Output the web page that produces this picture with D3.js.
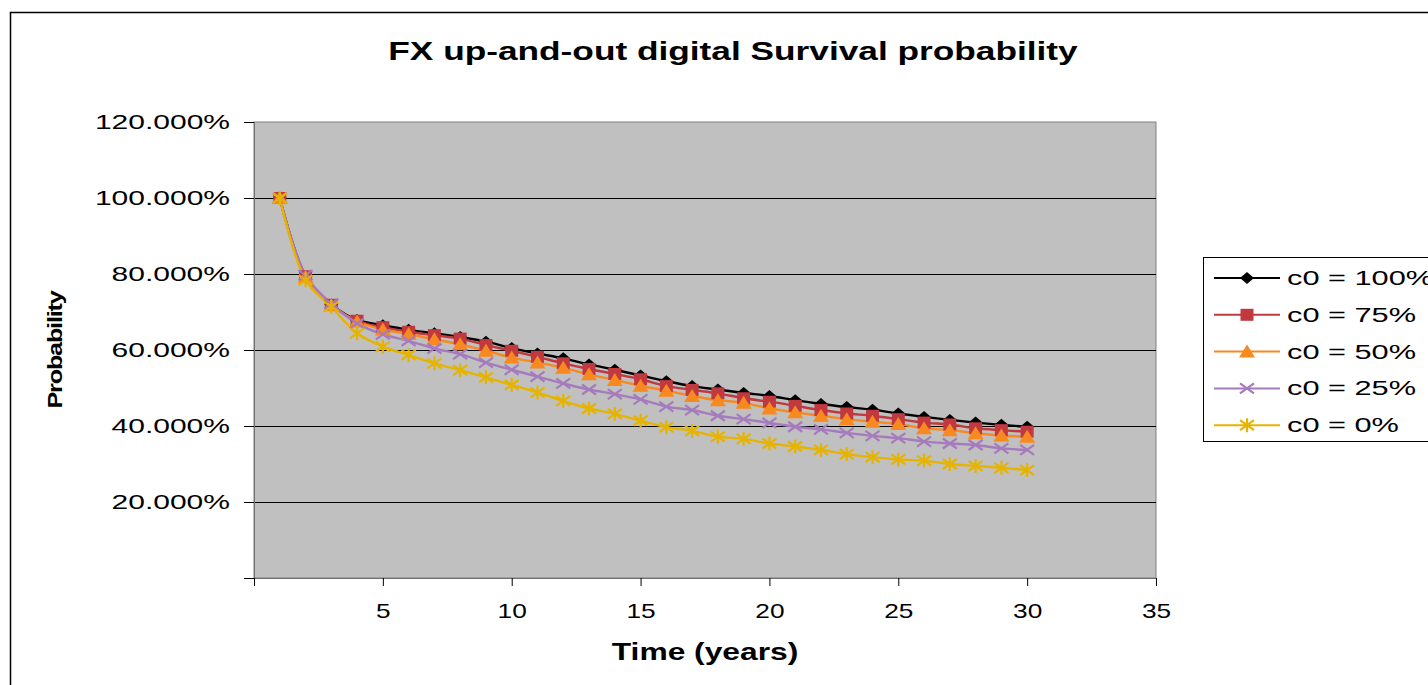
<!DOCTYPE html>
<html lang="en">
<head>
<meta charset="UTF-8">
<title>FX up-and-out digital Survival probability</title>
<script src="https://cdn.jsdelivr.net/npm/d3@7"></script>
<style>
    body { margin: 0; background: #fff; }
    svg { display: block; font-family: "Liberation Sans", Arial, sans-serif; }
</style>
</head>
<body>
<div id="wrap"></div>
<script>
    // data
    var years = d3.range(1, 31);
    var seriesNames = ['c0 = 100%', 'c0 = 75%', 'c0 = 50%', 'c0 = 25%', 'c0 = 0%'];
    var c100 = [1.000, 0.795, 0.720, 0.679, 0.665, 0.653, 0.644, 0.634, 0.622, 0.605, 0.591, 0.578, 0.562, 0.548, 0.533,
        0.518, 0.505, 0.496, 0.487, 0.479, 0.468, 0.458, 0.450, 0.443, 0.433, 0.424, 0.416, 0.409, 0.403, 0.398];
    var c75 = [1.000, 0.794, 0.719, 0.677, 0.660, 0.648, 0.639, 0.630, 0.613, 0.598, 0.582, 0.565, 0.550, 0.537, 0.523,
        0.505, 0.495, 0.486, 0.473, 0.464, 0.453, 0.442, 0.433, 0.427, 0.418, 0.409, 0.404, 0.394, 0.389, 0.385];
    var c50 = [1.000, 0.793, 0.718, 0.675, 0.654, 0.642, 0.628, 0.615, 0.598, 0.580, 0.567, 0.553, 0.536, 0.521, 0.506,
        0.493, 0.479, 0.468, 0.461, 0.446, 0.436, 0.427, 0.418, 0.411, 0.405, 0.394, 0.389, 0.381, 0.375, 0.372];
    var c25 = [1.000, 0.797, 0.722, 0.670, 0.641, 0.624, 0.604, 0.589, 0.567, 0.548, 0.530, 0.512, 0.496, 0.484, 0.470,
        0.451, 0.442, 0.427, 0.418, 0.408, 0.398, 0.391, 0.382, 0.374, 0.368, 0.359, 0.354, 0.350, 0.341, 0.337];
    var c0 = [1.000, 0.784, 0.714, 0.644, 0.609, 0.587, 0.565, 0.547, 0.528, 0.508, 0.488, 0.466, 0.446, 0.432, 0.414,
        0.397, 0.387, 0.372, 0.366, 0.354, 0.346, 0.337, 0.326, 0.318, 0.312, 0.309, 0.300, 0.295, 0.290, 0.284];
    var seriesValues = [c100, c75, c50, c25, c0];
    var seriesColors = ['#000000', '#c0393f', '#f7891f', '#a57bbd', '#e6b400'];
    var seriesMarkers = ['diamond', 'square', 'triangle', 'cross', 'star'];
    var yTicks = [0, 0.2, 0.4, 0.6, 0.8, 1.0, 1.2];
    var xTicks = [0, 5, 10, 15, 20, 25, 30, 35];

    var WIDTH = 1428, HEIGHT = 685,
        STRETCH = 1.5; // the original picture is stretched sideways

    var svg = d3.select('#wrap').append('svg').attr('width', WIDTH).attr('height', HEIGHT);

    // stretch text horizontally like the reference
    function stretch(sel, f) {
        sel.each(function() {
            var len = this.getComputedTextLength();
            if (len > 0) {
                d3.select(this).attr('textLength', len * f).attr('lengthAdjust', 'spacingAndGlyphs');
            }
        });
    }

    // chart frame (runs off the right and bottom)
    svg.append('rect').attr('x', 10.5).attr('y', 12.5).attr('width', 1600).attr('height', 900)
        .attr('fill', '#fff').attr('stroke', '#000').attr('stroke-width', 1.5);

    var x = d3.scaleLinear().domain([0, 35]).range([254, 1156]);
    var y = d3.scaleLinear().domain([0, 1.2]).range([578, 122]);

    // plot area
    svg.append('rect').attr('x', x(0)).attr('y', y(1.2)).attr('width', x(35) - x(0)).attr('height', y(0) - y(1.2))
        .attr('fill', '#c0c0c0').attr('stroke', '#808080').attr('stroke-width', 1);

    // gridlines
    svg.append('g').selectAll('line').data(yTicks.filter(function(d) { return d > 0 && d < 1.2; }))
        .enter().append('line')
        .attr('x1', x(0)).attr('x2', x(35))
        .attr('y1', function(d) { return Math.round(y(d)) + 0.5; })
        .attr('y2', function(d) { return Math.round(y(d)) + 0.5; })
        .attr('stroke', '#000').attr('stroke-width', 1);

    // y axis
    var yAxis = d3.axisLeft(y).tickValues(yTicks).tickSize(10).tickPadding(14)
        .tickFormat(function(d) { return d === 0 ? '' : d3.format('.3%')(d); });
    var gy = svg.append('g').attr('transform', 'translate(' + x(0) + ',0)').call(yAxis);
    gy.select('.domain').attr('stroke', '#707070');
    gy.selectAll('.tick line').attr('stroke', '#000');
    gy.selectAll('text').attr('font-size', 20).attr('fill', '#000')
        .attr('font-family', '"Liberation Sans", Arial, sans-serif');
    stretch(gy.selectAll('text'), STRETCH);

    // x axis
    var xAxis = d3.axisBottom(x).tickValues(xTicks).tickSize(8).tickPadding(17)
        .tickFormat(function(d) { return d === 0 ? '' : d; });
    var gx = svg.append('g').attr('transform', 'translate(0,' + y(0) + ')').call(xAxis);
    gx.select('.domain').attr('stroke', '#707070');
    gx.selectAll('.tick line').attr('stroke', '#000');
    gx.selectAll('text').attr('font-size', 21).attr('fill', '#000')
        .attr('font-family', '"Liberation Sans", Arial, sans-serif');
    stretch(gx.selectAll('text'), 1.25);

    // titles
    var title = svg.append('text').attr('x', 733).attr('y', 60).attr('text-anchor', 'middle')
        .attr('font-size', 25).attr('font-weight', 'bold').text('FX up-and-out digital Survival probability');
    stretch(title, 1.41);
    var xTitle = svg.append('text').attr('x', 705).attr('y', 660).attr('text-anchor', 'middle')
        .attr('font-size', 23).attr('font-weight', 'bold').text('Time (years)');
    stretch(xTitle, 1.38);
    var yTitle = svg.append('text').attr('transform', 'translate(62,350) rotate(-90)').attr('text-anchor', 'middle')
        .attr('font-size', 21).attr('font-weight', 'bold').attr('letter-spacing', -1).text('Probability');
    stretch(yTitle, 1.2);

    // marker drawing
    function drawMarker(g, type, color, cx, cy) {
        if (type === 'diamond') {
            g.append('path').attr('d', 'M' + cx + ',' + (cy - 6) + 'L' + (cx + 7) + ',' + cy + 'L' + cx + ',' + (cy + 6) + 'L' + (cx - 7) + ',' + cy + 'Z')
                .attr('fill', color);
        } else if (type === 'square') {
            g.append('rect').attr('x', cx - 6.5).attr('y', cy - 6).attr('width', 13).attr('height', 12).attr('fill', color);
        } else if (type === 'triangle') {
            g.append('path').attr('d', 'M' + cx + ',' + (cy - 7) + 'L' + (cx + 8) + ',' + (cy + 6) + 'L' + (cx - 8) + ',' + (cy + 6) + 'Z')
                .attr('fill', color);
        } else if (type === 'cross') {
            g.append('path').attr('d', 'M' + (cx - 7) + ',' + (cy - 5) + 'L' + (cx + 7) + ',' + (cy + 5) + 'M' + (cx + 7) + ',' + (cy - 5) + 'L' + (cx - 7) + ',' + (cy + 5))
                .attr('stroke', color).attr('stroke-width', 2.2).attr('fill', 'none');
        } else if (type === 'star') {
            g.append('path').attr('d', 'M' + (cx - 7) + ',' + (cy - 5) + 'L' + (cx + 7) + ',' + (cy + 5) + 'M' + (cx + 7) + ',' + (cy - 5) + 'L' + (cx - 7) + ',' + (cy + 5) + 'M' + cx + ',' + (cy - 7) + 'L' + cx + ',' + (cy + 7))
                .attr('stroke', color).attr('stroke-width', 2.2).attr('fill', 'none');
        }
    }

    var line = d3.line()
        .x(function(d, i) { return x(years[i]); })
        .y(function(d) { return y(d); })
        .curve(d3.curveCatmullRom.alpha(0.5));

    // lines first, then markers on top
    for (var s = 0; s < seriesValues.length; s++) {
        svg.append('g').attr('class', 'series s' + s)
            .append('path').datum(seriesValues[s]).attr('d', line)
            .attr('fill', 'none').attr('stroke', seriesColors[s]).attr('stroke-width', 2.4);
    }
    for (var s2 = 0; s2 < seriesValues.length; s2++) {
        var gm = svg.append('g').attr('class', 'markers m' + s2);
        for (var k = 0; k < years.length; k++) {
            drawMarker(gm, seriesMarkers[s2], seriesColors[s2], x(years[k]), y(seriesValues[s2][k]));
        }
    }

    // legend
    var lg = svg.append('g').attr('class', 'legend');
    lg.append('rect').attr('x', 1203.5).attr('y', 257.5).attr('width', 300).attr('height', 184)
        .attr('fill', '#fff').attr('stroke', '#000').attr('stroke-width', 1);
    seriesNames.forEach(function(name, i) {
        var cy = 278 + i * 36.8;
        lg.append('line').attr('x1', 1214).attr('x2', 1280).attr('y1', cy).attr('y2', cy)
            .attr('stroke', seriesColors[i]).attr('stroke-width', 2);
        drawMarker(lg, seriesMarkers[i], seriesColors[i], 1247, cy);
        var t = lg.append('text').attr('x', 1287).attr('y', cy + 7).attr('font-size', 20.5).text(name);
        stretch(t, STRETCH);
    });
</script>
</body>
</html>
